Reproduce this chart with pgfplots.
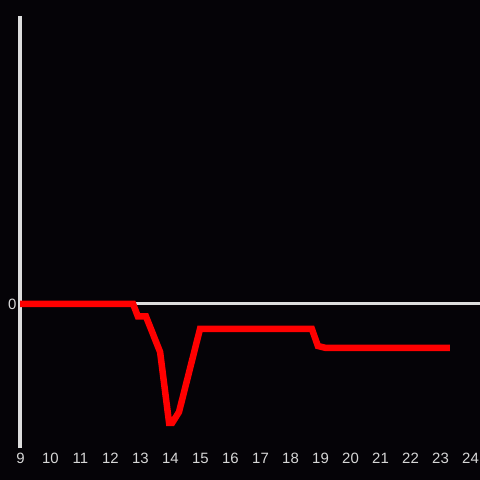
\documentclass[border=0pt]{standalone}
\usepackage{pgfplots}
\pgfplotsset{compat=1.18}
\usepackage{fontspec}
\setmainfont{Liberation Sans}
\definecolor{bg}{RGB}{5,3,7}
\definecolor{axgray}{RGB}{221,221,221}
\definecolor{lblgray}{RGB}{215,215,215}
\begin{document}
\begin{tikzpicture}
\fill[bg] (0,0) rectangle (480bp,480bp);
\useasboundingbox (0,0) rectangle (480bp,480bp);
\begin{axis}[
  at={(20bp,32bp)}, anchor=south west, scale only axis,
  width=460bp, height=432bp,
  xmin=9, xmax=24.3333, ymin=-144, ymax=288,
  axis x line*=bottom, axis y line*=left,
  x axis line style={draw=none},
  y axis line style={draw=axgray, line width=3bp, -},
  xtick={9,10,...,24}, ytick={0},
  major tick length=0,
  ymajorgrids, major grid style={draw=axgray, line width=3bp},
  /pgf/number format/assume math mode=true,
  tick label style={font=\fontsize{15}{17}\selectfont, text=lblgray},
  xticklabel style={yshift=-2bp, xshift=0.5bp},
  yticklabel style={xshift=0bp},
]
\addplot[draw=red, line width=6.5bp, line join=miter] coordinates {
(9,0) (12.77,0) (12.93,-12.5) (13.2,-12.5) (13.67,-48) (13.97,-119) (14.07,-119)
(14.3,-108) (15.0,-25) (18.73,-25) (18.93,-42) (19.2,-44) (23.33,-44)
};
\end{axis}
\end{tikzpicture}
\end{document}
